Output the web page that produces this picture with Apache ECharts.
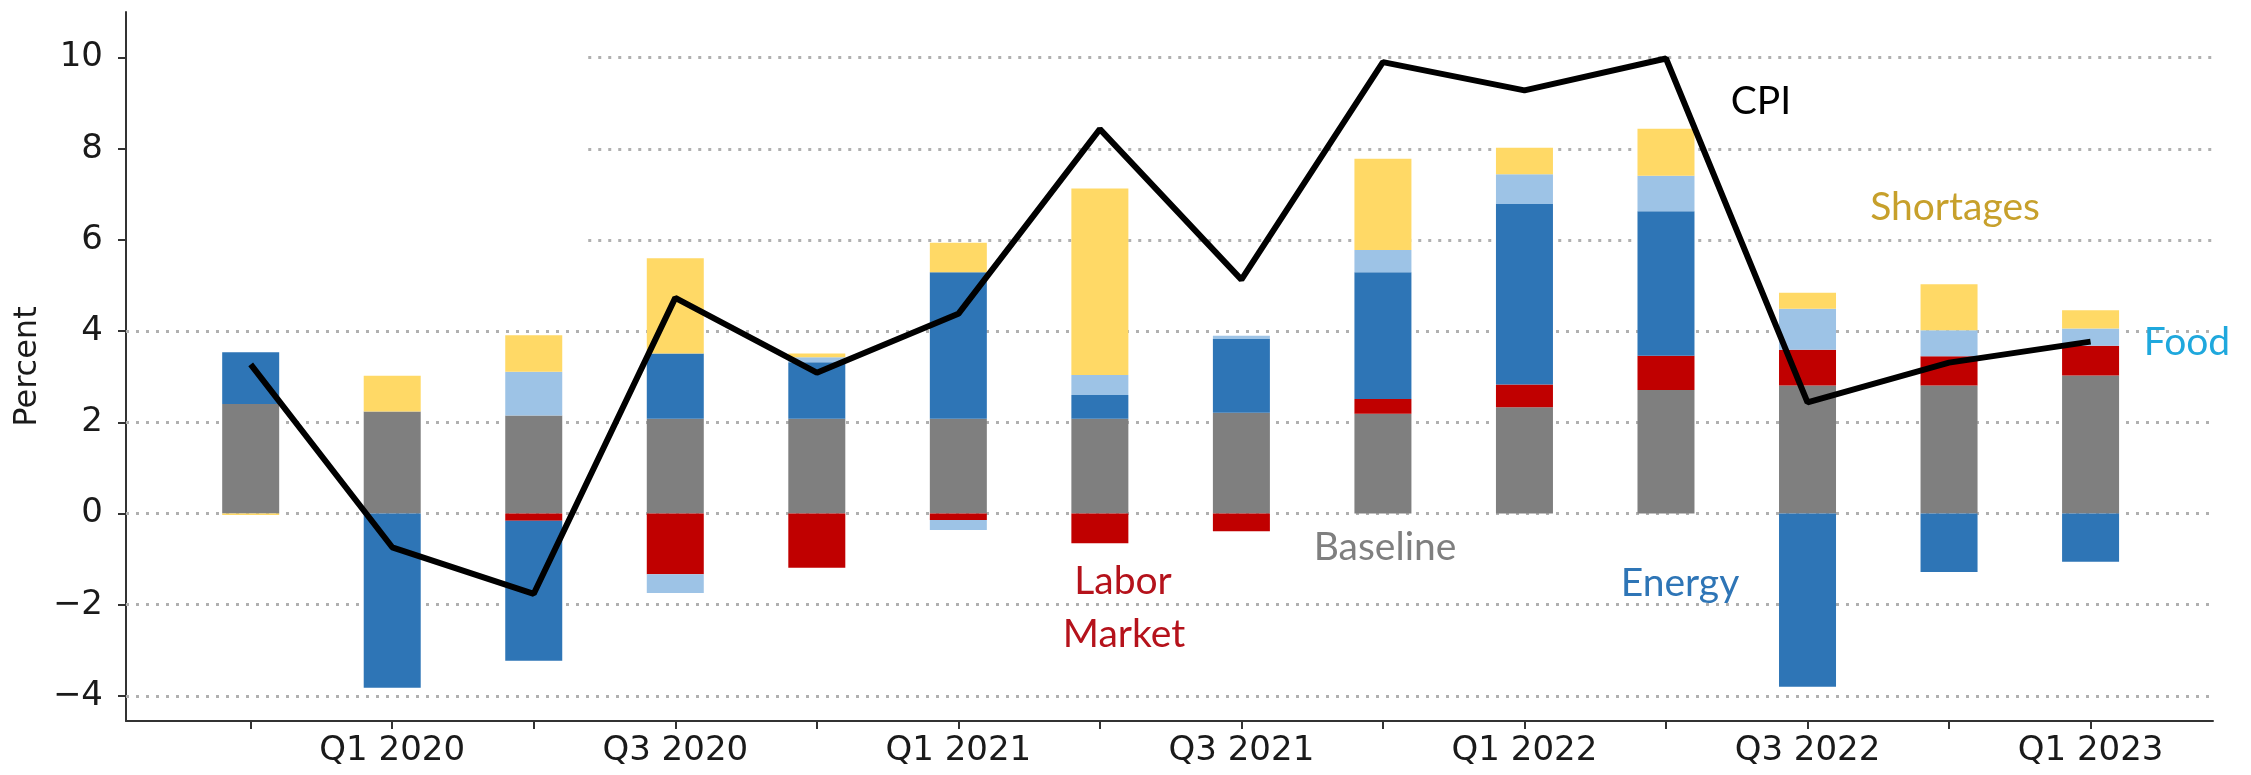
<!DOCTYPE html>
<html>
<head>
<meta charset="utf-8">
<title>CPI decomposition</title>
<script src="https://cdn.jsdelivr.net/npm/echarts@6/dist/echarts.min.js"></script>
<style>
  html, body { margin: 0; padding: 0; background: #fff; }
  #chart { width: 2251px; height: 775px; }
</style>
</head>
<body>
<div id="chart"></div>
<script>
// quarters, one bar each
const quarters = ['Q4 2019', 'Q1 2020', 'Q2 2020', 'Q3 2020', 'Q4 2020', 'Q1 2021', 'Q2 2021',
  'Q3 2021', 'Q4 2021', 'Q1 2022', 'Q2 2022', 'Q3 2022', 'Q4 2022', 'Q1 2023'];
// only every other quarter gets a label
const labelledQuarters = ['Q1 2020', 'Q3 2020', 'Q1 2021', 'Q3 2021', 'Q1 2022', 'Q3 2022', 'Q1 2023'];

// contributions, percent
const baseline = [2.40, 2.24, 2.15, 2.08, 2.08, 2.08, 2.08, 2.21, 2.19, 2.33, 2.71, 2.81, 2.81, 3.03];
const laborMarket = [0, 0, -0.16, -1.33, -1.19, -0.14, -0.65, -0.39, 0.32, 0.50, 0.75, 0.78, 0.64, 0.65];
const energy = [1.14, -3.82, -3.07, 1.43, 1.24, 3.21, 0.52, 1.62, 2.78, 3.96, 3.17, -3.80, -1.28, -1.06];
const food = [0, 0, 0.96, -0.41, 0.11, -0.22, 0.44, 0.07, 0.49, 0.65, 0.78, 0.90, 0.57, 0.38];
const shortages = [-0.03, 0.78, 0.80, 2.09, 0.08, 0.65, 4.09, 0, 2.00, 0.58, 1.03, 0.35, 1.01, 0.40];
const cpi = [3.27, -0.74, -1.76, 4.73, 3.09, 4.38, 8.43, 5.13, 9.90, 9.28, 9.98, 2.44, 3.31, 3.77];

const yTicks = [-4, -2, 0, 2, 4, 6, 8, 10];
const fullGridLevels = [-4, -2, 0, 2, 4];
const upperGridLevels = [6, 8, 10];

const xMin = -0.881;
const xMax = 13.865;
const upperGridStart = 2.385; // upper dotted lines start right of the blank corner

const chart = echarts.init(document.getElementById('chart'));

// value goes first in each item so that echarts stacks on y (x is a value axis here)
function barSeries(name, values, color) {
  return {
    name: name,
    type: 'bar',
    stack: 'total',
    barWidth: 57,
    encode: { x: 1, y: 0 },
    itemStyle: { color: color },
    data: values.map((v, i) => [v, i]),
  };
}

const gridLines = []
  .concat(fullGridLevels.map((v) => [{ coord: [xMin, v] }, { coord: [xMax, v] }]))
  .concat(upperGridLevels.map((v) => [{ coord: [upperGridStart, v] }, { coord: [xMax, v] }]));

const tickFont = 'DejaVu Sans';
const noteFont = 'Lato';

function note(text, x, y, color) {
  return {
    type: 'text',
    x: x,
    y: y,
    z: 10,
    style: {
      text: text,
      fill: color,
      font: '39px ' + noteFont,
      fontSize: 39,
      fontFamily: noteFont,
      align: 'center',
      verticalAlign: 'middle',
      textAlign: 'center',
      textVerticalAlign: 'middle',
    },
  };
}

const option = {
  animation: false,
  backgroundColor: '#fff',
  grid: {
    left: 126,
    right: 38,
    top: 12,
    bottom: 54,
    outerBoundsMode: 'none',
  },
  xAxis: {
    type: 'value',
    min: xMin,
    max: xMax,
    splitLine: { show: false },
    axisLine: { show: true, onZero: false, lineStyle: { color: '#333', width: 2 } },
    axisTick: {
      show: true,
      length: 8,
      customValues: quarters.map((q, i) => i),
      lineStyle: { color: '#333', width: 2 },
    },
    axisLabel: {
      customValues: labelledQuarters.map((q) => quarters.indexOf(q)),
      formatter: (v) => quarters[Math.round(v)],
      color: '#1a1a1a',
      fontFamily: tickFont,
      fontSize: 34,
      margin: 13,
    },
  },
  yAxis: {
    type: 'value',
    min: -4.55,
    max: 11,
    name: 'Percent',
    nameLocation: 'middle',
    nameGap: 82,
    nameMoveOverlap: false,
    nameTextStyle: { color: '#1a1a1a', fontFamily: tickFont, fontSize: 32 },
    splitLine: { show: false },
    axisLine: { show: true, onZero: false, lineStyle: { color: '#333', width: 2 } },
    axisTick: {
      show: true,
      length: 8,
      customValues: yTicks,
      lineStyle: { color: '#333', width: 2 },
    },
    axisLabel: {
      customValues: yTicks,
      formatter: (v) => String(v).replace('-', '\u2212'),
      color: '#1a1a1a',
      fontFamily: tickFont,
      fontSize: 34,
      margin: 23,
    },
  },
  series: [
    barSeries('Baseline', baseline, '#7f7f7f'),
    barSeries('Labor Market', laborMarket, '#c00000'),
    barSeries('Energy', energy, '#2e75b6'),
    barSeries('Food', food, '#9dc3e6'),
    barSeries('Shortages', shortages, '#ffd966'),
    {
      name: 'CPI',
      type: 'line',
      z: 5,
      symbol: 'none',
      lineStyle: { color: '#000', width: 6 },
      data: cpi.map((v, i) => [i, v]),
      markLine: {
        silent: true,
        z: 1,
        symbol: 'none',
        label: { show: false },
        lineStyle: { color: '#b0b0b0', width: 3, type: [3, 7] },
        data: gridLines,
      },
    },
  ],
  graphic: [
    note('CPI', 1761, 101, '#000000'),
    note('Shortages', 1955, 207, '#c7a02b'),
    note('Food', 2187, 342, '#1fa8dd'),
    note('Energy', 1680, 583, '#2e75b6'),
    note('Baseline', 1385, 547, '#7f7f7f'),
    note('Labor', 1123, 581, '#b5121b'),
    note('Market', 1124, 634, '#b5121b'),
  ],
};

chart.setOption(option);
</script>
</body>
</html>
